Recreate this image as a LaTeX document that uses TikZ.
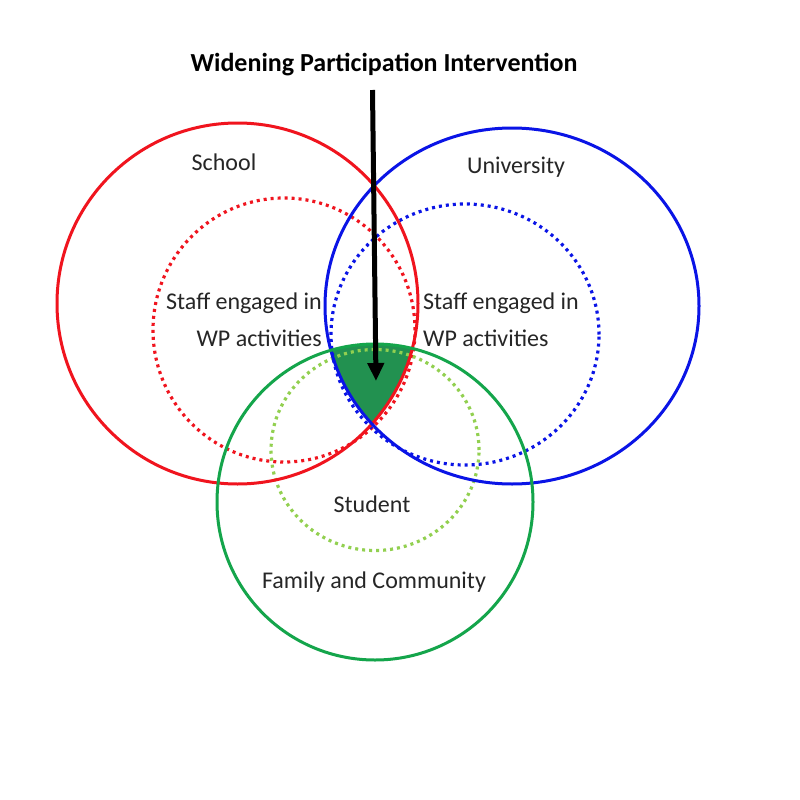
\documentclass[tikz,border=0pt]{standalone}
\usepackage{fontspec}
\setmainfont{Carlito}
\usetikzlibrary{arrows.meta}
\definecolor{cred}{RGB}{240,20,30}
\definecolor{cblue}{RGB}{10,20,230}
\definecolor{cgreen}{RGB}{20,165,75}
\definecolor{clight}{RGB}{146,208,80}
\definecolor{cfill}{RGB}{34,145,80}
\tikzset{
  solidring/.style={line width=3pt},
  dotring/.style={line width=3.2pt, dash pattern=on 3pt off 4pt},
  lbl/.style={font=\fontsize{24}{28}\selectfont, inner sep=0pt, text=black!85},
  wparrow/.style={line width=5pt, -{Triangle[width=16pt,length=18pt]}}
}
\begin{document}
\begin{tikzpicture}[x=1pt,y=-1pt]
\useasboundingbox[fill=white] (0,0) rectangle (800,800);
% shared region
\begin{scope}
  \clip (237.5,303.5) circle[radius=180.5pt];
  \clip (512,306) ellipse[x radius=187pt, y radius=178pt];
  \fill[cfill] (375,502) circle[radius=158pt];
\end{scope}
% dotted inner rings
\draw[dotring, cred] (284,330) ellipse[x radius=131pt, y radius=132pt];
\draw[dotring, cblue] (465,334.5) ellipse[x radius=134pt, y radius=130.5pt];
\draw[dotring, clight] (375,450) ellipse[x radius=104pt, y radius=100.5pt];
% solid rings
\draw[solidring, cred] (237.5,303.5) circle[radius=180.5pt];
\draw[solidring, cblue] (512,306) ellipse[x radius=187pt, y radius=178pt];
\draw[solidring, cgreen] (375,502) circle[radius=158pt];
% labels
\node[lbl, font=\fontsize{26}{30}\selectfont\bfseries, text=black] (title) at (384,65) {Widening Participation Intervention};
\node[lbl] (school) at (224,162) {School};
\node[lbl] (univ) at (516,167) {University};
\node[lbl, anchor=east] (ls1) at (322,303) {Staff engaged in};
\node[lbl, anchor=east] (ls2) at (322,338) {WP activities};
\node[lbl, anchor=west] (rs1) at (423,303) {Staff engaged in};
\node[lbl, anchor=west] (rs2) at (423,338) {WP activities};
\node[lbl] (student) at (372,504) {Student};
\node[lbl] (family) at (374,582) {Family and Community};
% arrow
\coordinate (astart) at (372.5,90);
\coordinate (atip) at (376,381);
\draw[wparrow] (astart) -- (atip);
\end{tikzpicture}
\end{document}
